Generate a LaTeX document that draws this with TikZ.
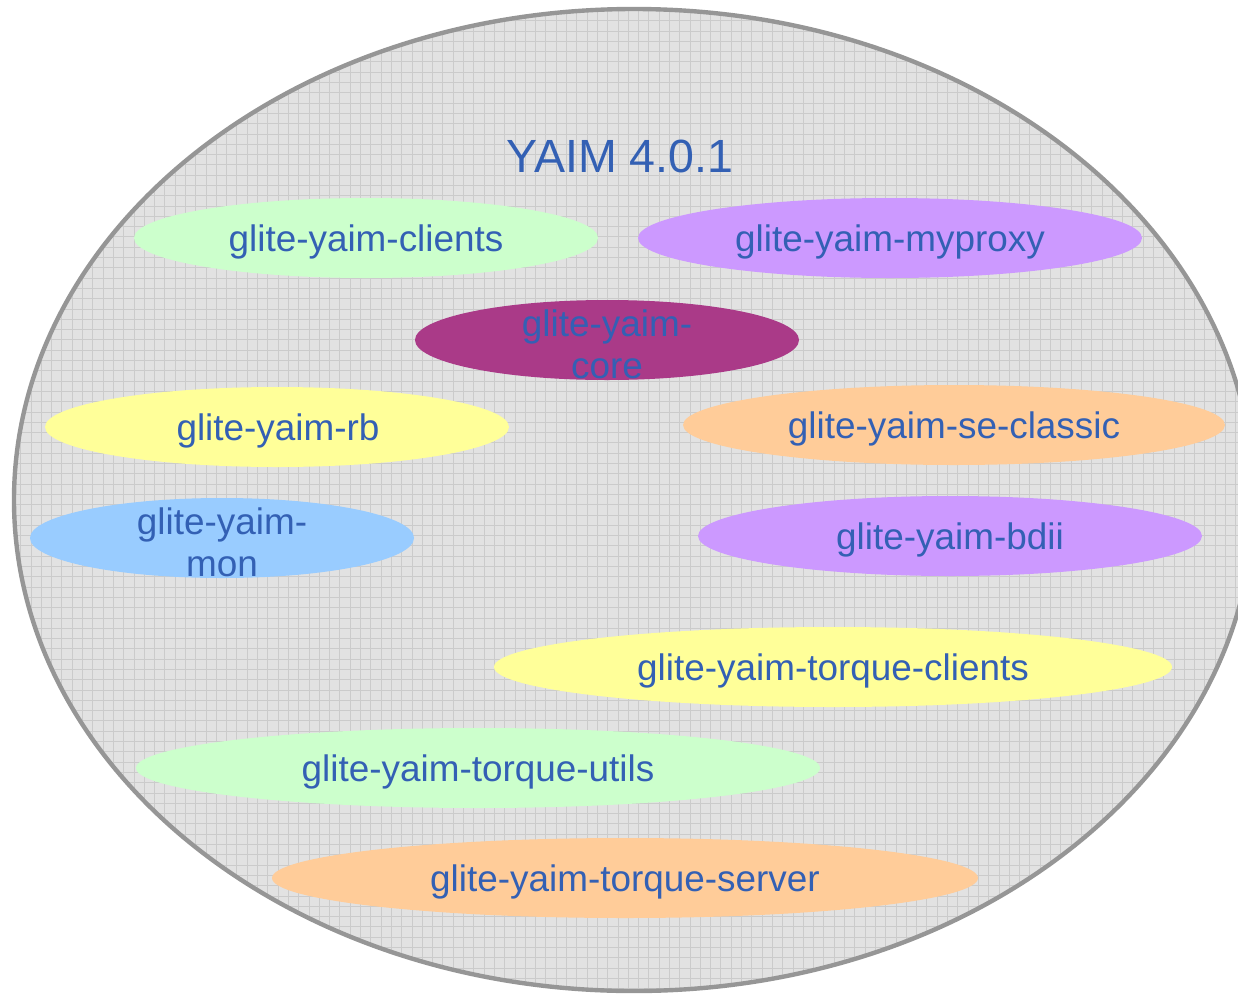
\documentclass[tikz,border=0pt]{standalone}
\usepackage{fontspec}
\setmainfont{Liberation Sans}
\definecolor{yaimblue}{RGB}{51,96,180}
\definecolor{yaimgrey}{RGB}{226,226,226}
\definecolor{gridgrey}{RGB}{203,203,203}
\definecolor{rimgrey}{RGB}{150,150,150}
\definecolor{palegreen}{HTML}{CCFFCC}
\definecolor{lilac}{HTML}{CC99FF}
\definecolor{plum}{RGB}{170,58,136}
\definecolor{paleyellow}{HTML}{FFFF99}
\definecolor{peach}{HTML}{FFCC99}
\definecolor{skyblue}{HTML}{99CCFF}

\begin{document}
\begin{tikzpicture}[x=0.02cm,y=-0.02cm,
    lbl/.style={text=yaimblue,font=\fontsize{21}{24}\selectfont,align=center,inner sep=0pt}]
	\useasboundingbox (0,0) rectangle (1238,998);
	\clip (0,0) rectangle (1238,998);
	% the big ellipse, grid paper inside
	\begin{scope}
		\clip (634,500) ellipse [x radius=620,y radius=491];
		\fill[yaimgrey] (0,0) rectangle (1260,1000);
		\draw[gridgrey,line width=0.4pt,step=0.206cm] (0,0) grid (1260,1000);
	\end{scope}
	\draw[rimgrey,line width=2.5pt] (634,500) ellipse [x radius=620,y radius=491];
	\node[lbl,font=\fontsize{26.5}{30}\selectfont] (yaim) at (620,156) {YAIM 4.0.1};
	% the modules
	\fill[palegreen] (366,238) ellipse [x radius=232,y radius=40];
	\node[lbl] (clients) at (366,242) {glite-yaim-clients};
	\fill[lilac] (890,238) ellipse [x radius=252,y radius=40];
	\node[lbl] (myproxy) at (890,242) {glite-yaim-myproxy};
	\fill[plum] (607,340) ellipse [x radius=192,y radius=40];
	\node[lbl] (core) at (607,344) {glite-yaim-\\core};
	\fill[paleyellow] (277,427) ellipse [x radius=232,y radius=40];
	\node[lbl] (rb) at (278,431) {glite-yaim-rb};
	\fill[peach] (954,425) ellipse [x radius=271,y radius=40];
	\node[lbl] (seclassic) at (954,429) {glite-yaim-se-classic};
	\fill[skyblue] (222,538) ellipse [x radius=192,y radius=40];
	\node[lbl] (mon) at (222,542) {glite-yaim-\\mon};
	\fill[lilac] (950,536) ellipse [x radius=252,y radius=40];
	\node[lbl] (bdii) at (950,540) {glite-yaim-bdii};
	\fill[paleyellow] (833,667) ellipse [x radius=339,y radius=40];
	\node[lbl] (tqclients) at (833,671) {glite-yaim-torque-clients};
	\fill[palegreen] (478,768) ellipse [x radius=342,y radius=40];
	\node[lbl] (tqutils) at (478,772) {glite-yaim-torque-utils};
	\fill[peach] (625,878) ellipse [x radius=353,y radius=40];
	\node[lbl] (tqserver) at (625,882) {glite-yaim-torque-server};
\end{tikzpicture}
\end{document}
